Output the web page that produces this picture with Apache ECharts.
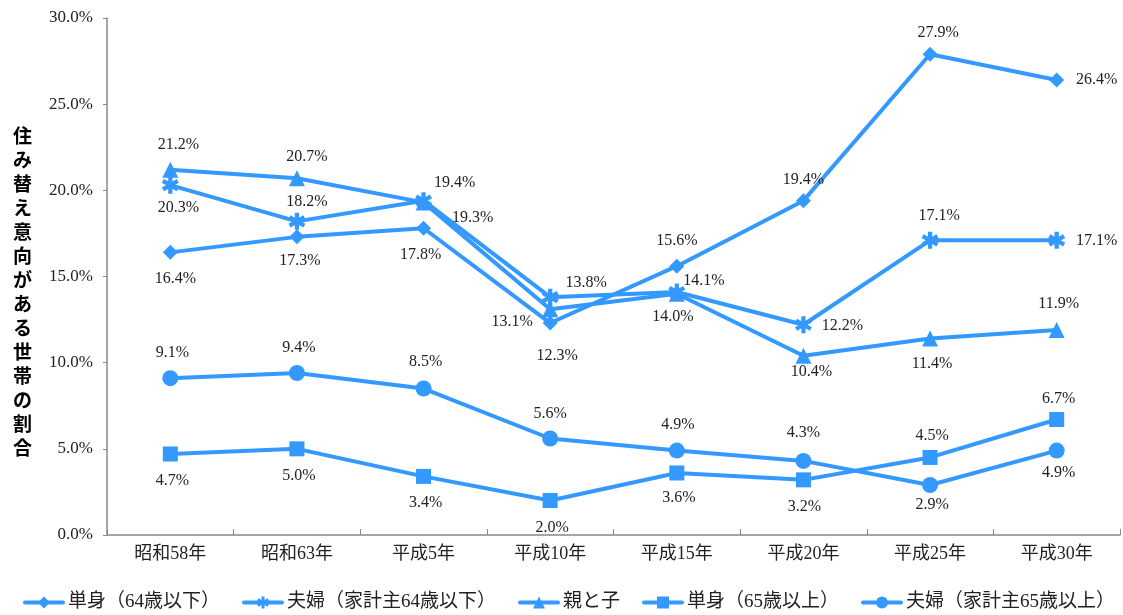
<!DOCTYPE html>
<html>
<head>
<meta charset="utf-8">
<script src="https://cdn.jsdelivr.net/npm/echarts@6/dist/echarts.min.js"></script>
<style>html,body{margin:0;padding:0;background:#fff;}#chart{width:1123px;height:615px;}</style>
</head>
<body>
<div id="chart"></div>
<script>
// ---- data ----
const categories = ['昭和58年', '昭和63年', '平成5年', '平成10年', '平成15年', '平成20年', '平成25年', '平成30年'];
const seriesNames = ['単身（64歳以下）', '夫婦（家計主64歳以下）', '親と子', '単身（65歳以上）', '夫婦（家計主65歳以上）'];
const single64 = [16.4, 17.3, 17.8, 12.3, 15.6, 19.4, 27.9, 26.4];
const couple64 = [20.3, 18.2, 19.4, 13.8, 14.1, 12.2, 17.1, 17.1];
const parentChild = [21.2, 20.7, 19.3, 13.1, 14.0, 10.4, 11.4, 11.9];
const single65 = [4.7, 5.0, 3.4, 2.0, 3.6, 3.2, 4.5, 6.7];
const couple65 = [9.1, 9.4, 8.5, 5.6, 4.9, 4.3, 2.9, 4.9];
const yTicks = [0, 5, 10, 15, 20, 25, 30];
const yTitle = '住み替え意向がある世帯の割合';

// ---- label placement (offsets from the marker centre) ----
const offSingle64 = [[5, 26], [3, 24], [-3, 27], [7, 33], [0, -25], [0, -21], [8, -21], [40, 0]];
const offCouple64 = [[8, 23], [10, -20], [31, -18], [36, -14], [27, -11], [39, 1], [9, -25], [40, 0]];
const offParent = [[8, -25], [10, -21], [49, 15], [-38, 13], [-4, 23], [8, 16], [2, 25], [2, -26]];
const offSingle65 = [[2, 27], [2, 27], [2, 26], [2, 27], [2, 25], [1, 27], [2, -22], [2, -21]];
const offCouple65 = [[2, -25], [2, -25], [2, -27], [0, -25], [1, -26], [0, -28], [2, 20], [2, 22]];

const color = '#3399ff';
const numFont = "'Liberation Serif', 'Noto Sans CJK JP', serif";
const asterisk = 'path://M-2,-8 L2,-8 L2,8 L-2,8 Z M5.93,-5.73 L7.93,-2.27 L-5.93,5.73 L-7.93,2.27 Z M-7.93,-2.27 L-5.93,-5.73 L7.93,2.27 L5.93,5.73 Z';

function mk(name, values, offs, symbol, size) {
  return {
    name: name,
    type: 'line',
    data: values.map((v, i) => ({ value: v, label: { offset: offs[i] } })),
    symbol: symbol,
    symbolSize: size,
    showAllSymbol: true,
    lineStyle: { color: color, width: 4 },
    itemStyle: { color: color },
    label: {
      show: true,
      position: 'inside',
      formatter: p => p.value.toFixed(1) + '%',
      color: '#222',
      fontFamily: numFont,
      fontSize: 16
    },
    emphasis: { disabled: true }
  };
}

const chart = echarts.init(document.getElementById('chart'));
chart.setOption({
  animation: false,
  backgroundColor: '#fff',
  grid: { left: 107, right: 3, top: 18, bottom: 80, containLabel: false, outerBoundsMode: 'none' },
  xAxis: {
    type: 'category',
    data: categories,
    boundaryGap: true,
    axisLine: { lineStyle: { color: '#888', width: 1.5 } },
    axisTick: { show: true, inside: true, length: 6, lineStyle: { color: '#888' } },
    axisLabel: { color: '#222', fontSize: 18, fontFamily: numFont, margin: 10 }
  },
  yAxis: {
    type: 'value',
    min: yTicks[0],
    max: yTicks[yTicks.length - 1],
    interval: yTicks[1] - yTicks[0],
    splitLine: { show: false },
    axisLine: { show: true, lineStyle: { color: '#888', width: 1.5 } },
    axisTick: { show: true, length: 4, lineStyle: { color: '#888' } },
    axisLabel: { color: '#222', fontSize: 17, fontFamily: numFont, margin: 14, formatter: v => v.toFixed(1) + '%' }
  },
  graphic: [{
    type: 'text',
    left: 13,
    top: 124,
    style: {
      text: yTitle.split('').join('\n'),
      font: "bold 19px 'Noto Sans CJK JP', sans-serif",
      lineHeight: 24,
      fill: '#000',
      align: 'center'
    }
  }],
  legend: {
    left: 18,
    top: 588,
    itemWidth: 38,
    itemHeight: 15,
    itemGap: 22,
    lineStyle: { width: 4, cap: 'round' },
    textStyle: { fontSize: 19, color: '#222', fontFamily: numFont },
    data: seriesNames
  },
  series: [
    mk(seriesNames[0], single64, offSingle64, 'diamond', 15),
    mk(seriesNames[1], couple64, offCouple64, asterisk, 17),
    mk(seriesNames[2], parentChild, offParent, 'triangle', 16),
    mk(seriesNames[3], single65, offSingle65, 'rect', 15),
    mk(seriesNames[4], couple65, offCouple65, 'circle', 16)
  ]
});
</script>
</body>
</html>
